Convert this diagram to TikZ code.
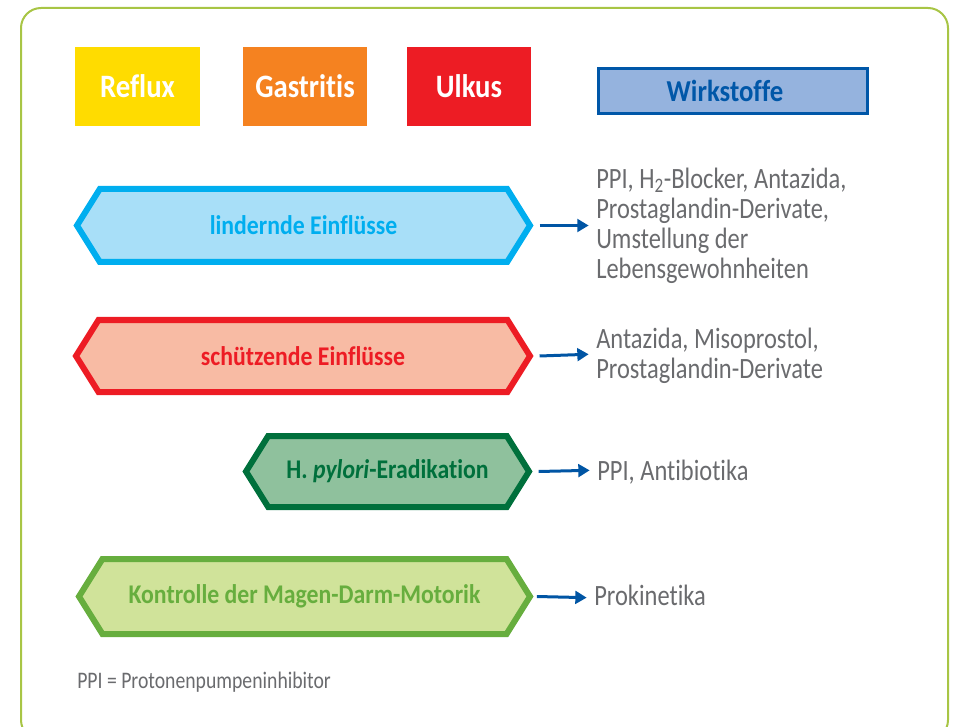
\documentclass[tikz,border=0pt]{standalone}
\usepackage{fontspec}
\usetikzlibrary{shapes.symbols,arrows.meta}
\setmainfont{Carlito}[Ligatures=NoCommon]
\newfontfamily\lblfont[FakeStretch=0.88,Ligatures=NoCommon]{Carlito}
\newfontfamily\txtfont[FakeStretch=0.83,Ligatures=NoCommon]{Carlito}

\definecolor{framegreen}{HTML}{A8C545}
\definecolor{refluxyellow}{HTML}{FFDC00}
\definecolor{gastorange}{HTML}{F58220}
\definecolor{ulkusred}{HTML}{ED1C24}
\definecolor{wirkfill}{HTML}{95B3DE}
\definecolor{wirkblue}{HTML}{0057A8}
\definecolor{lindfill}{HTML}{A8DFF8}
\definecolor{lindline}{HTML}{00AEEF}
\definecolor{schuetzfill}{HTML}{F8BBA4}
\definecolor{pylorifill}{HTML}{8FC19D}
\definecolor{pyloriline}{HTML}{00703C}
\definecolor{motorfill}{HTML}{D0E39A}
\definecolor{motorline}{HTML}{67AE3E}
\definecolor{greytext}{HTML}{6A6B6E}
\definecolor{arrowblue}{HTML}{0055A4}

\begin{document}
\begin{tikzpicture}[x=0.75pt,y=-0.75pt,
  category/.style={minimum width=#1*0.75pt, minimum height=79*0.75pt, inner sep=0pt,
    text=white, font=\lblfont\bfseries\fontsize{24.5}{29}\selectfont},
  hexa/.style={shape=signal, signal to=west and east, signal pointer angle=116,
    line width=4.5pt, line join=miter, inner sep=0pt,
    font=\lblfont\bfseries\fontsize{20.25}{24}\selectfont},
  drugs/.style={inner sep=0pt, align=left, text=greytext,
    font=\txtfont\fontsize{22.1}{22.5}\selectfont},
  arr/.style={draw=arrowblue, line width=2.25pt, shorten >=5.5pt,
    -{Triangle[length=8.5pt,width=9.5pt]}}
]
\useasboundingbox (0,0) rectangle (953,727);
\clip (0,0) rectangle (953,727);

% outer frame
\draw[framegreen, line width=1.5pt, rounded corners=15pt] (21,8) rectangle (948,740);

% disease categories and column heading
\node[category=125, fill=refluxyellow] (reflux) at (137.5,86.5) {Reflux};
\node[category=124, fill=gastorange] (gastritis) at (305,86.5) {Gastritis};
\node[category=124, fill=ulkusred] (ulkus) at (469,86.5) {Ulkus};
\node[draw=wirkblue, fill=wirkfill, line width=2.25pt, minimum width=269*0.75pt,
  minimum height=45*0.75pt, inner sep=0pt, text=wirkblue,
  font=\lblfont\bfseries\fontsize{22.8}{26}\selectfont] (wirk) at (733,91)
  {\hspace*{-12pt}Wirkstoffe};

% influence hexagons
\node[hexa, draw=lindline, fill=lindfill, text=lindline,
  minimum width=453*0.75pt, minimum height=73*0.75pt] (lind) at (303.5,225.5)
  {lindernde Einflüsse};
\node[hexa, draw=ulkusred, fill=schuetzfill, text=ulkusred,
  minimum width=454*0.75pt, minimum height=72*0.75pt] (schuetz) at (303,356)
  {schützende Einflüsse};
\node[hexa, draw=pyloriline, fill=pylorifill, text=pyloriline,
  minimum width=283*0.75pt, minimum height=71*0.75pt] (pylori) at (387.5,471.5)
  {H. \textit{pylori}-Eradikation};
\node[hexa, draw=motorline, fill=motorfill, text=motorline,
  minimum width=451*0.75pt, minimum height=75*0.75pt] (motor) at (304.5,596.5)
  {Kontrolle der Magen-Darm-Motorik};

% active substances
\node[drugs, anchor=north west] (d1) at (596,168)
  {PPI, H\textsubscript{2}-Blocker, Antazida,\\Prostaglandin-Derivate,\\Umstellung der\\Lebensgewohnheiten};
\node[drugs, anchor=north west] (d2) at (596,328)
  {Antazida, Misoprostol,\\Prostaglandin-Derivate};
\node[drugs, anchor=base west] (d3) at (597,480) {PPI, Antibiotika};
\node[drugs, anchor=base west] (d4) at (594,605) {Prokinetika};

\draw[arr] ([xshift=4.5pt]lind.east) -- (lind.east -| d1.west);
\draw[arr] ([xshift=4.5pt]schuetz.east) -- ([yshift=1.5pt]schuetz.east -| d2.west);
\draw[arr] ([xshift=4.5pt]pylori.east) -- ([yshift=1pt]pylori.east -| d3.west);
\draw[arr] ([xshift=2.5pt]motor.east) -- ([yshift=-1pt]motor.east -| d4.west);

% footnote
\node[inner sep=0pt, anchor=base west, text=greytext,
  font=\txtfont\fontsize{17.8}{20}\selectfont] (note) at (77,688)
  {PPI = Protonenpumpeninhibitor};
\end{tikzpicture}
\end{document}
